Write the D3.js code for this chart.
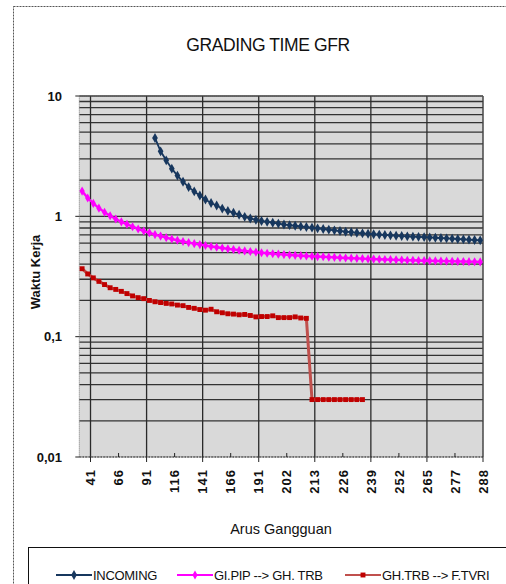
<!DOCTYPE html>
<html>
<head>
<meta charset="utf-8">
<script src="https://cdn.jsdelivr.net/npm/d3@7"></script>
<style>
body { margin: 0; background: #fff; }
text { font-family: "Liberation Sans", Arial, sans-serif; }
</style>
</head>
<body>
<div id="chart"></div>
<script>
// tick labels on the category axis (Arus Gangguan), one every 5 categories
var tickLabels = ["41", "66", "91", "116", "141", "166", "191", "202", "213", "226", "239", "252", "265", "277", "288"];

// 72 categories, values (null = no point)
var incoming = [null, null, null, null, null, null, null, null, null, null, null, null, null,
    4.48, 3.47, 2.92, 2.49, 2.18, 1.94, 1.75, 1.61, 1.49, 1.38, 1.29, 1.23, 1.16, 1.11, 1.07, 1.03,
    0.99, 0.96, 0.935, 0.915, 0.90, 0.885, 0.87, 0.855, 0.845, 0.835, 0.825, 0.815, 0.805, 0.795,
    0.785, 0.775, 0.765, 0.755, 0.745, 0.738, 0.73, 0.722, 0.716, 0.71, 0.705, 0.70, 0.695, 0.69,
    0.686, 0.682, 0.678, 0.675, 0.672, 0.668, 0.664, 0.66, 0.656, 0.652, 0.648, 0.644, 0.64, 0.636, 0.632];

var giPip = [1.62, 1.42, 1.28, 1.17, 1.08, 1.01, 0.95, 0.90, 0.86, 0.82, 0.785, 0.755, 0.73, 0.705,
    0.685, 0.665, 0.648, 0.632, 0.618, 0.605, 0.593, 0.582, 0.572, 0.562, 0.553, 0.545, 0.537, 0.53,
    0.523, 0.516, 0.51, 0.504, 0.498, 0.493, 0.489, 0.485, 0.481, 0.477, 0.474, 0.471, 0.468, 0.466,
    0.463, 0.461, 0.458, 0.456, 0.453, 0.451, 0.449, 0.447, 0.445, 0.443, 0.441, 0.44, 0.438, 0.437,
    0.435, 0.434, 0.432, 0.431, 0.43, 0.428, 0.427, 0.426, 0.425, 0.424, 0.423, 0.422, 0.421, 0.42,
    0.419, 0.418];

var ghTrb = [0.367, 0.332, 0.308, 0.288, 0.271, 0.255, 0.247, 0.238, 0.228, 0.218, 0.211, 0.207,
    0.200, 0.195, 0.192, 0.189, 0.187, 0.183, 0.181, 0.175, 0.172, 0.168, 0.166, 0.169, 0.161, 0.158,
    0.155, 0.154, 0.152, 0.153, 0.150, 0.146, 0.147, 0.147, 0.149, 0.144, 0.144, 0.144, 0.146, 0.143,
    0.142, 0.03, 0.03, 0.03, 0.03, 0.03, 0.03, 0.03, 0.03, 0.03, 0.03,
    null, null, null, null, null, null, null, null, null, null, null, null, null, null, null, null,
    null, null, null, null, null];

var seriesNames = ["INCOMING", "GI.PIP  --> GH. TRB", "GH.TRB --> F.TVRI"];
var yTicks = [10, 1, 0.1, 0.01];

function drawChart() {
    var width = 506, height = 584;
    var left = 79.3, right = 483, top = 96, bottom = 457;

    var svg = d3.select("#chart").append("svg")
        .attr("width", width)
        .attr("height", height);

    // outer chart frame
    svg.append("rect")
        .attr("x", 13.5).attr("y", 6.5)
        .attr("width", 540).attr("height", 620)
        .attr("fill", "none").attr("stroke", "#555")
        .attr("stroke-dasharray", "2,1");

    svg.append("text")
        .attr("x", 268).attr("y", 51)
        .attr("text-anchor", "middle")
        .attr("font-size", 17.5)
        .attr("letter-spacing", -0.4)
        .attr("fill", "#111")
        .text("GRADING TIME GFR");

    var nCat = incoming.length;
    var x = d3.scaleLinear().domain([0, nCat]).range([left, right]);
    var y = d3.scaleLog().domain([0.01, 10]).range([bottom, top]);

    svg.append("rect")
        .attr("x", left).attr("y", top)
        .attr("width", right - left).attr("height", bottom - top)
        .attr("fill", "#d9d9d9");

    // log gridlines: 1..9 in every decade
    var grid = [];
    [0.01, 0.1, 1].forEach(function(dec) {
        for (var m = 1; m <= 9; m++) grid.push(dec * m);
    });
    grid.push(10);
    svg.append("g").selectAll("line")
        .data(grid.filter(function(v) { return v > 0.0100001; }))
        .enter().append("line")
        .attr("x1", left).attr("x2", right)
        .attr("y1", function(d) { return y(d); })
        .attr("y2", function(d) { return y(d); })
        .attr("stroke", "#333").attr("stroke-width", 1.3);

    // label / tick positions sit on category edges 2, 7, 12 ...
    var tickPos = tickLabels.map(function(d, i) { return 2 + 5 * i; });

    svg.append("g").selectAll("line")
        .data(tickPos.filter(function(k, i) { return i % 2 == 0; }))
        .enter().append("line")
        .attr("x1", function(d) { return x(d); })
        .attr("x2", function(d) { return x(d); })
        .attr("y1", top).attr("y2", bottom)
        .attr("stroke", "#2a2a2a").attr("stroke-width", 1.3);

    // plot border
    svg.append("rect")
        .attr("x", left).attr("y", top)
        .attr("width", right - left).attr("height", bottom - top)
        .attr("fill", "none").attr("stroke", "#777")
        .attr("stroke-dasharray", "1,1");

    // x axis
    svg.append("line")
        .attr("x1", left).attr("x2", right)
        .attr("y1", bottom).attr("y2", bottom)
        .attr("stroke", "#222").attr("stroke-dasharray", "2,1");

    svg.append("g").selectAll("line")
        .data(tickPos)
        .enter().append("line")
        .attr("x1", function(d) { return x(d); })
        .attr("x2", function(d) { return x(d); })
        .attr("y1", function(d, i) { return i % 2 == 0 ? bottom : bottom - 4; })
        .attr("y2", function(d, i) { return i % 2 == 0 ? bottom + 5 : bottom; })
        .attr("stroke", "#222");

    svg.append("g").selectAll("text")
        .data(tickLabels)
        .enter().append("text")
        .attr("transform", function(d, i) {
            return "translate(" + x(tickPos[i]) + "," + 469 + ") rotate(-90)";
        })
        .attr("text-anchor", "end")
        .attr("dy", "0.36em")
        .attr("font-size", 13)
        .attr("font-weight", "bold")
        .attr("letter-spacing", 1)
        .attr("fill", "#111")
        .text(function(d) { return d; });

    // y axis ticks + labels
    svg.append("g").selectAll("line")
        .data(yTicks)
        .enter().append("line")
        .attr("x1", left - 4).attr("x2", left)
        .attr("y1", function(d) { return y(d); })
        .attr("y2", function(d) { return y(d); })
        .attr("stroke", "#222");

    var fmt = function(d) { return String(d).replace(".", ","); };
    svg.append("g").selectAll("text")
        .data(yTicks)
        .enter().append("text")
        .attr("x", 62)
        .attr("y", function(d) { return y(d); })
        .attr("dy", "0.35em")
        .attr("text-anchor", "end")
        .attr("font-size", 13)
        .attr("font-weight", "bold")
        .attr("fill", "#111")
        .text(fmt);

    svg.append("text")
        .attr("transform", "translate(40,272) rotate(-90)")
        .attr("text-anchor", "middle")
        .attr("font-size", 13)
        .attr("font-weight", "bold")
        .attr("fill", "#111")
        .text("Waktu Kerja");

    svg.append("text")
        .attr("x", 281).attr("y", 534)
        .attr("text-anchor", "middle")
        .attr("font-size", 14.5)
        .attr("fill", "#111")
        .text("Arus Gangguan");

    // series
    var styles = [
        {data: incoming, line: "#17375e", marker: "#17375e", symbol: d3.symbolDiamond, size: 28, w: 1.8},
        {data: giPip, line: "#ff00ff", marker: "#ff00ff", symbol: d3.symbolDiamond, size: 24, w: 2.4},
        {data: ghTrb, line: "#c0504d", marker: "#c00000", symbol: d3.symbolSquare, size: 24, w: 3}
    ];

    var line = d3.line()
        .defined(function(d) { return d != null; })
        .x(function(d, i) { return x(i + 0.5); })
        .y(function(d) { return y(d); });

    styles.forEach(function(s) {
        svg.append("path")
            .datum(s.data)
            .attr("d", line)
            .attr("fill", "none")
            .attr("stroke", s.line)
            .attr("stroke-width", s.w);

        var pts = s.data.map(function(v, i) { return {i: i, v: v}; })
            .filter(function(d) { return d.v != null; });
        svg.append("g").selectAll("path")
            .data(pts)
            .enter().append("path")
            .attr("d", d3.symbol().type(s.symbol).size(s.size))
            .attr("transform", function(d) { return "translate(" + x(d.i + 0.5) + "," + y(d.v) + ")"; })
            .attr("fill", s.marker);
    });

    // legend
    svg.append("rect")
        .attr("x", 28.5).attr("y", 547.5)
        .attr("width", 520).attr("height", 60)
        .attr("fill", "#fff").attr("stroke", "#111");

    var legX = [56, 177, 345];
    var leg = svg.append("g").selectAll("g")
        .data(styles)
        .enter().append("g")
        .attr("transform", function(d, i) { return "translate(" + legX[i] + ",575)"; });
    leg.append("line")
        .attr("x1", 0).attr("x2", 36)
        .attr("stroke", function(d) { return d.line; })
        .attr("stroke-width", function(d) { return Math.min(d.w, 2.2); });
    leg.append("path")
        .attr("d", function(d) { return d3.symbol().type(d.symbol).size(d.size)(); })
        .attr("transform", "translate(18,0)")
        .attr("fill", function(d) { return d.marker; });
    leg.append("text")
        .attr("x", 37).attr("y", 0)
        .attr("dy", "0.36em")
        .attr("font-size", 13)
        .attr("letter-spacing", -0.3)
        .attr("fill", "#111")
        .text(function(d, i) { return seriesNames[i]; });
}

drawChart();
</script>
</body>
</html>
